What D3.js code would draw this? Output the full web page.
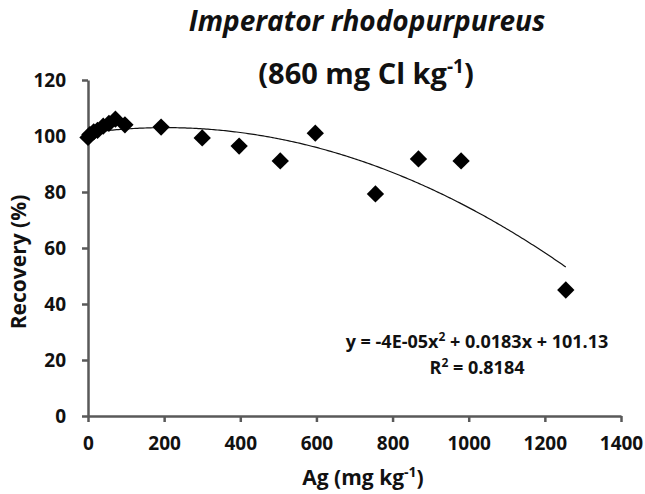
<!DOCTYPE html>
<html>
<head>
<meta charset="utf-8">
<script src="https://cdn.jsdelivr.net/npm/d3@7"></script>
<style>
  body { margin: 0; background: #fff; }
  text { font-family: "Open Sans", "DejaVu Sans", sans-serif; font-weight: bold; fill: #111; }
</style>
</head>
<body>
<div id="chart_div"></div>
<script>
// measured points: Ag added (mg/kg) vs recovery (%)
var ag_values = [0, 5, 15, 25, 40, 55, 72, 97, 192, 300, 397, 505, 597, 755, 868, 980, 1255];
var recovery_values = [99.5, 100.5, 101.5, 102, 103.5, 104.5, 106, 104, 103.2, 99.3, 96.4, 91.1, 101, 79.3, 91.8, 91.1, 45];
var x_ticks = [0, 200, 400, 600, 800, 1000, 1200, 1400];
var y_ticks = [0, 20, 40, 60, 80, 100, 120];
// polynomial trendline (label shows rounded coefficients)
var trend_coef = [-4.5e-5, 0.0183, 101.13];
var trend_range = [0, 1255];

var chart_width = 645;
var chart_height = 494;
var svg = d3.select("#chart_div").append("svg")
    .attr("width", chart_width)
    .attr("height", chart_height);

var x = d3.scaleLinear().domain([0, 1400]).range([88, 621]);
var y = d3.scaleLinear().domain([0, 120]).range([416, 80]);
var axis_color = "#595959";

// axes
var x_axis = svg.append("g")
    .attr("transform", "translate(0," + y(0) + ")")
    .call(d3.axisBottom(x).tickValues(x_ticks).tickFormat(d3.format("d"))
        .tickSize(6).tickPadding(15).tickSizeOuter(0));
var y_axis = svg.append("g")
    .attr("transform", "translate(" + x(0) + ",0)")
    .call(d3.axisLeft(y).tickValues(y_ticks).tickFormat(d3.format("d"))
        .tickSize(6).tickPadding(16).tickSizeOuter(0));

[x_axis, y_axis].forEach(function(g) {
    g.select(".domain").attr("stroke", axis_color).attr("stroke-width", 2.5);
    g.selectAll(".tick line").attr("stroke", axis_color).attr("stroke-width", 2.5);
    g.selectAll(".tick text")
        .style("font-family", "'Open Sans', sans-serif")
        .style("font-weight", "bold")
        .style("font-size", "19px")
        .attr("fill", "#111");
});

// trendline
var curve_xs = d3.range(trend_range[0], trend_range[1] + 1, 5);
var line = d3.line()
    .x(function(d) { return x(d); })
    .y(function(d) { return y(trend_coef[0] * d * d + trend_coef[1] * d + trend_coef[2]); });
svg.append("path")
    .datum(curve_xs)
    .attr("d", line)
    .attr("fill", "none")
    .attr("stroke", "#111")
    .attr("stroke-width", 1.2);

// diamonds
svg.selectAll(".pt")
    .data(ag_values)
    .enter().append("path")
    .attr("class", "pt")
    .attr("d", d3.symbol().type(d3.symbolSquare).size(150))
    .attr("transform", function(d, i) {
        return "translate(" + x(d) + "," + y(recovery_values[i]) + ") rotate(45)";
    })
    .attr("fill", "#000");

// titles
svg.append("text")
    .attr("x", 367).attr("y", 31)
    .attr("text-anchor", "middle")
    .style("font-size", "28px")
    .style("font-style", "italic")
    .text("Imperator rhodopurpureus");

var t2 = svg.append("text")
    .attr("x", 366).attr("y", 84)
    .attr("text-anchor", "middle")
    .style("font-size", "29px");
t2.append("tspan").text("(860 mg Cl kg");
t2.append("tspan").attr("dy", -11).style("font-size", "19px").text("-1");
t2.append("tspan").attr("dy", 11).text(")");

// axis titles
var xl = svg.append("text")
    .attr("x", 363).attr("y", 485)
    .attr("text-anchor", "middle")
    .style("font-size", "21px");
xl.append("tspan").text("Ag (mg kg");
xl.append("tspan").attr("dy", -8).style("font-size", "14px").text("-1");
xl.append("tspan").attr("dy", 8).text(")");

svg.append("text")
    .attr("transform", "translate(26,262) rotate(-90)")
    .attr("text-anchor", "middle")
    .style("font-size", "21px")
    .text("Recovery (%)");

// equation label
var eq = svg.append("text")
    .attr("x", 477).attr("y", 348)
    .attr("text-anchor", "middle")
    .style("font-size", "18px");
eq.append("tspan").text("y = -4E-05x");
eq.append("tspan").attr("dy", -7).style("font-size", "12px").text("2");
eq.append("tspan").attr("dy", 7).text(" + 0.0183x + 101.13");

var r2 = svg.append("text")
    .attr("x", 477).attr("y", 374)
    .attr("text-anchor", "middle")
    .style("font-size", "18px");
r2.append("tspan").text("R");
r2.append("tspan").attr("dy", -7).style("font-size", "12px").text("2");
r2.append("tspan").attr("dy", 7).text(" = 0.8184");
</script>
</body>
</html>
